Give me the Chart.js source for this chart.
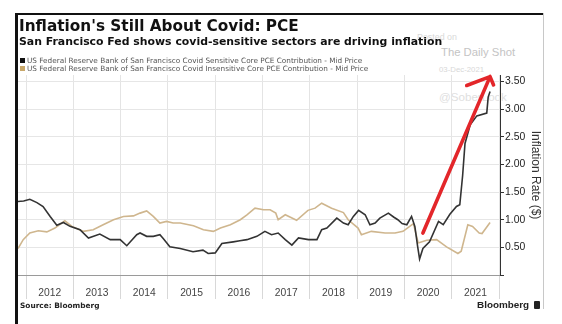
<!DOCTYPE html>
<html>
<head>
<meta charset="utf-8">
<script src="https://cdn.jsdelivr.net/npm/chart.js@4.4.1/dist/chart.umd.min.js"></script>
<style>
  html, body { margin:0; padding:0; background:#fff; }
  #wrap { position:relative; width:562px; height:324px; overflow:hidden; background:#fff; }
  #c { position:absolute; left:0; top:0; z-index:2; }
  .t { position:absolute; white-space:nowrap; line-height:1; }
  .wm { z-index:1; font-family:"Liberation Sans", Arial, sans-serif; }
  .fg { z-index:3; }
  .sq { display:inline-block; width:5px; height:5px; margin-right:2px; vertical-align:0px; }
</style>
</head>
<body>
<div id="wrap">
  <!-- frame -->
  <div class="fg" style="position:absolute;left:15px;top:13px;width:529px;height:2px;background:#111;"></div>
  <div class="fg" style="position:absolute;left:15px;top:13px;width:3px;height:311px;background:#111;"></div>
  <div class="fg" style="position:absolute;left:543px;top:13px;width:1px;height:296px;background:#c8c8c8;"></div>

  <!-- watermarks (under the chart) -->
  <div class="t wm" style="left:417px;top:33px;font-size:8.9px;color:#d9d9d9;">Posted on</div>
  <div class="t wm" style="left:441px;top:47px;font-size:11.3px;color:#c4c4c4;">The Daily Shot</div>
  <div class="t wm" style="left:439px;top:66px;font-size:7.8px;color:#d8d8d8;">03-Dec-2021</div>
  <div class="t wm" style="left:439px;top:91px;font-size:11.6px;color:#e0e0e0;">@SoberLook</div>

  <!-- titles -->
  <div class="t fg" style="left:19px;top:19px;font-family:'DejaVu Sans',sans-serif;font-weight:bold;font-size:15.3px;color:#111;">Inflation's Still About Covid: PCE</div>
  <div class="t fg" style="left:19px;top:36.5px;font-family:'DejaVu Sans',sans-serif;font-weight:bold;font-size:10.9px;color:#111;">San Francisco Fed shows covid-sensitive sectors are driving inflation</div>

  <!-- legend -->
  <div class="t fg" style="left:20px;top:57px;font-family:'DejaVu Sans',sans-serif;font-size:7.3px;color:#555;"><span class="sq" style="background:#111;"></span>US Federal Reserve Bank of San Francisco Covid Sensitive Core PCE Contribution - Mid Price</div>
  <div class="t fg" style="left:20px;top:65px;font-family:'DejaVu Sans',sans-serif;font-size:7.3px;color:#555;"><span class="sq" style="background:#c9a86a;"></span>US Federal Reserve Bank of San Francisco Covid Insensitive Core PCE Contribution - Mid Price</div>

  <!-- footer -->
  <div class="t fg" style="left:20px;top:302px;font-family:'DejaVu Sans',sans-serif;font-weight:bold;font-size:7.4px;color:#222;">Source: Bloomberg</div>
  <div class="t fg" style="left:477px;top:300px;font-family:'Liberation Sans',Arial,sans-serif;font-weight:bold;font-size:9.9px;color:#222;">Bloomberg</div>
  <div class="fg" style="position:absolute;left:534px;top:301px;width:6px;height:8px;background:#222;border-radius:1px;"></div>

  <canvas id="c" width="562" height="324"></canvas>
</div>
<script>
// ---- data (decimal years, values in %) ----
const sensitiveX = [2011.83, 2011.95, 2012.08, 2012.23, 2012.36, 2012.51, 2012.65, 2012.79, 2012.93, 2013.14,
  2013.32, 2013.56, 2013.78, 2013.99, 2014.13, 2014.34, 2014.41, 2014.55, 2014.69, 2014.83, 2014.9,
  2015.04, 2015.26, 2015.53, 2015.74, 2015.85, 2016.0, 2016.14, 2016.38, 2016.52, 2016.67, 2016.88,
  2017.05, 2017.19, 2017.33, 2017.48, 2017.62, 2017.76, 2017.97, 2018.15, 2018.25, 2018.36, 2018.57,
  2018.71, 2018.81, 2018.92, 2019.03, 2019.17, 2019.27, 2019.38, 2019.48, 2019.66, 2019.77, 2019.86,
  2019.95, 2020.05, 2020.15, 2020.22, 2020.28, 2020.32, 2020.39, 2020.53, 2020.72, 2020.82, 2020.96,
  2021.1, 2021.17, 2021.23, 2021.28, 2021.39, 2021.53, 2021.74, 2021.77, 2021.81];
const sensitiveY = [1.33, 1.34, 1.37, 1.31, 1.24, 1.06, 0.90, 0.95, 0.88, 0.82,
  0.67, 0.74, 0.64, 0.64, 0.53, 0.73, 0.76, 0.70, 0.70, 0.73, 0.66,
  0.51, 0.48, 0.42, 0.45, 0.39, 0.40, 0.57, 0.60, 0.62, 0.64, 0.70,
  0.79, 0.73, 0.76, 0.64, 0.54, 0.67, 0.64, 0.64, 0.82, 0.85, 1.03,
  0.94, 0.91, 1.06, 1.17, 1.09, 0.91, 0.94, 1.03, 1.12, 1.05, 1.00,
  0.93, 0.91, 1.06, 0.88, 0.51, 0.29, 0.48, 0.60, 0.97, 0.91, 1.10,
  1.24, 1.27, 1.80, 2.38, 2.72, 2.88, 2.93, 3.22, 3.32];

const insensitiveX = [2011.83, 2011.94, 2012.08, 2012.26, 2012.44, 2012.61, 2012.82, 2012.97, 2013.21, 2013.42,
  2013.63, 2013.85, 2014.06, 2014.27, 2014.41, 2014.55, 2014.69, 2014.83, 2014.97, 2015.11, 2015.26,
  2015.54, 2015.75, 2015.96, 2016.11, 2016.32, 2016.53, 2016.67, 2016.84, 2017.02, 2017.16, 2017.28,
  2017.33, 2017.48, 2017.72, 2017.96, 2018.11, 2018.25, 2018.46, 2018.71, 2018.81, 2019.02, 2019.09,
  2019.30, 2019.59, 2019.80, 2019.97, 2020.19, 2020.29, 2020.47, 2020.68, 2020.89, 2021.13, 2021.20,
  2021.34, 2021.44, 2021.58, 2021.64, 2021.81];
const insensitiveY = [0.48, 0.64, 0.76, 0.80, 0.78, 0.85, 0.98, 0.88, 0.79, 0.82,
  0.91, 1.00, 1.06, 1.07, 1.12, 1.16, 1.06, 0.94, 0.97, 0.94, 0.94,
  0.89, 0.82, 0.79, 0.85, 0.91, 1.00, 1.09, 1.21, 1.18, 1.18, 1.12,
  1.00, 1.09, 0.99, 1.17, 1.21, 1.30, 1.21, 1.13, 1.00, 0.85, 0.73,
  0.79, 0.76, 0.76, 0.79, 0.93, 0.58, 0.63, 0.64, 0.51, 0.39, 0.43,
  0.91, 0.88, 0.76, 0.75, 0.95];

const yearLabels = ['2012','2013','2014','2015','2016','2017','2018','2019','2020','2021'];
const yTickValues = [0, 0.5, 1.0, 1.5, 2.0, 2.5, 3.0, 3.5];
const arrowFrom = [2020.39, 0.76];
const arrowTo = [2021.81, 3.59];

const toPoints = (xs, ys) => xs.map((x, i) => ({ x: x, y: ys[i] }));

const arrowPlugin = {
  id: 'arrow',
  afterDatasetsDraw(chart) {
    const xs = chart.scales.x, ys = chart.scales.y, ctx = chart.ctx;
    const x0 = xs.getPixelForValue(arrowFrom[0]), y0 = ys.getPixelForValue(arrowFrom[1]);
    const x1 = xs.getPixelForValue(arrowTo[0]), y1 = ys.getPixelForValue(arrowTo[1]);
    const ang = Math.atan2(y0 - y1, x0 - x1);
    const a = 46 * Math.PI / 180;
    ctx.save();
    ctx.strokeStyle = '#e3262a';
    ctx.lineWidth = 3.6;
    ctx.lineCap = 'round';
    ctx.beginPath();
    ctx.moveTo(x0, y0); ctx.lineTo(x1, y1);
    ctx.moveTo(x1, y1); ctx.lineTo(x1 + 25 * Math.cos(ang + a), y1 + 25 * Math.sin(ang + a));
    ctx.moveTo(x1, y1); ctx.lineTo(x1 + 9 * Math.cos(ang - a), y1 + 9 * Math.sin(ang - a));
    ctx.stroke();
    ctx.restore();
  }
};

new Chart(document.getElementById('c'), {
  type: 'line',
  data: {
    datasets: [
      { label: 'US Federal Reserve Bank of San Francisco Covid Sensitive Core PCE Contribution - Mid Price',
        data: toPoints(sensitiveX, sensitiveY), borderColor: '#333333', borderWidth: 1.6,
        pointRadius: 0, tension: 0, fill: false },
      { label: 'US Federal Reserve Bank of San Francisco Covid Insensitive Core PCE Contribution - Mid Price',
        data: toPoints(insensitiveX, insensitiveY), borderColor: '#cfb68e', borderWidth: 1.6,
        pointRadius: 0, tension: 0, fill: false }
    ]
  },
  options: {
    responsive: false,
    animation: false,
    parsing: false,
    layout: { padding: { left: 18, right: 17, top: 75, bottom: 21 } },
    plugins: { legend: { display: false }, tooltip: { enabled: false }, title: { display: false } },
    scales: {
      x: {
        type: 'linear',
        min: 2011.83,
        max: 2022.02,
        afterBuildTicks(scale) {
          const t = [];
          for (let i = 0; i <= yearLabels.length; i++) {
            t.push({ value: 2012 + i });
            if (i < yearLabels.length) t.push({ value: 2012.5 + i });
          }
          scale.ticks = t;
        },
        afterFit(scale) { scale.height = 28; },
        ticks: {
          autoSkip: false, maxRotation: 0, minRotation: 0, padding: -12,
          color: '#444',
          font: { family: 'Liberation Sans, Arial, sans-serif', size: 10.3 },
          callback(value) {
            const idx = Math.floor(value) - 2012;
            return (Math.abs(value % 1 - 0.5) < 1e-6 && yearLabels[idx]) ? yearLabels[idx] : '';
          }
        },
        grid: {
          drawOnChartArea: true, drawTicks: true, tickLength: 24,
          color: (ctx) => (ctx.tick && Math.abs(ctx.tick.value % 1) < 1e-6) ? '#e4e4e4' : 'rgba(0,0,0,0)',
          tickColor: (ctx) => (ctx.tick && Math.abs(ctx.tick.value % 1) < 1e-6) ? '#d8d8d8' : 'rgba(0,0,0,0)',
          lineWidth: 1
        },
        border: { display: true, color: '#9a9a9a', width: 1 }
      },
      y: {
        type: 'linear',
        position: 'right',
        min: 0,
        max: 3.62,
        afterBuildTicks(scale) { scale.ticks = yTickValues.map(v => ({ value: v })); },
        afterFit(scale) { scale.width = 45; },
        ticks: {
          padding: 1, color: '#222',
          font: { family: 'Liberation Sans, Arial, sans-serif', size: 10.4 },
          callback(value) { return value === 0 ? '' : value.toFixed(2); }
        },
        grid: {
          drawOnChartArea: true, tickLength: 4,
          color: (ctx) => (ctx.tick && ctx.tick.value === 0) ? 'rgba(0,0,0,0)' : '#e6e6e6',
          tickColor: '#333'
        },
        border: { display: true, color: '#333', width: 1 },
        title: {
          display: true, text: 'Inflation Rate ($)', color: '#333',
          font: { family: 'Liberation Sans, Arial, sans-serif', size: 12 },
          padding: { top: 2, bottom: 2 }
        }
      }
    }
  },
  plugins: [arrowPlugin]
});
</script>
</body>
</html>
